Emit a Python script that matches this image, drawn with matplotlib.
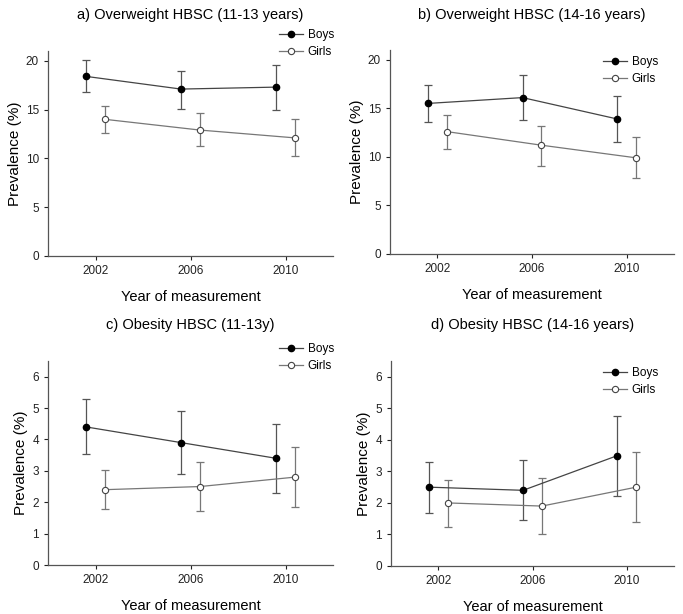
import matplotlib.pyplot as plt

plt.rcParams['font.family'] = ['Liberation Sans', 'DejaVu Sans']

years = [2002, 2006, 2010]
offset = 0.4

titles = ["a) Overweight HBSC (11-13 years)", "b) Overweight HBSC (14-16 years)",
          "c) Obesity HBSC (11-13y)", "d) Obesity HBSC (14-16 years)"]

# boys / girls prevalence with lower and upper CI
boys_a = [18.4, 17.1, 17.3]
boys_a_lo = [16.8, 15.1, 15.0]
boys_a_hi = [20.1, 19.0, 19.6]
girls_a = [14.0, 12.9, 12.1]
girls_a_lo = [12.6, 11.3, 10.2]
girls_a_hi = [15.4, 14.6, 14.0]

boys_b = [15.5, 16.1, 13.9]
boys_b_lo = [13.6, 13.8, 11.5]
boys_b_hi = [17.4, 18.4, 16.3]
girls_b = [12.6, 11.2, 9.9]
girls_b_lo = [10.8, 9.1, 7.8]
girls_b_hi = [14.3, 13.2, 12.0]

boys_c = [4.4, 3.9, 3.4]
boys_c_lo = [3.53, 2.9, 2.3]
boys_c_hi = [5.28, 4.9, 4.48]
girls_c = [2.4, 2.5, 2.8]
girls_c_lo = [1.77, 1.73, 1.85]
girls_c_hi = [3.02, 3.27, 3.75]

boys_d = [2.5, 2.4, 3.5]
boys_d_lo = [1.68, 1.45, 2.23]
boys_d_hi = [3.31, 3.35, 4.77]
girls_d = [2.0, 1.9, 2.5]
girls_d_lo = [1.25, 1.02, 1.4]
girls_d_hi = [2.73, 2.78, 3.6]

panels = [
    (boys_a, boys_a_lo, boys_a_hi, girls_a, girls_a_lo, girls_a_hi),
    (boys_b, boys_b_lo, boys_b_hi, girls_b, girls_b_lo, girls_b_hi),
    (boys_c, boys_c_lo, boys_c_hi, girls_c, girls_c_lo, girls_c_hi),
    (boys_d, boys_d_lo, boys_d_hi, girls_d, girls_d_lo, girls_d_hi),
]

W, H = 683, 614
fig = plt.figure(figsize=(W / 100, H / 100), dpi=100)

# axes boxes in pixels: left, top, right, bottom
boxes = [(48, 51, 333, 256), (390, 50, 674, 254), (48, 361, 333, 565), (391, 361, 674, 566)]
ylims = [21, 21, 6.5, 6.5]
yticks = [[0, 5, 10, 15, 20], [0, 5, 10, 15, 20], [0, 1, 2, 3, 4, 5, 6], [0, 1, 2, 3, 4, 5, 6]]
# legend anchor (pixels) upper right
leg_pos = [(334, 29), (658, 56), (334, 343), (658, 367)]
title_y = [15, 15, 325, 325]

for i, (b, blo, bhi, g, glo, ghi) in enumerate(panels):
    l, t, r, btm = boxes[i]
    ax = fig.add_axes([l / W, 1 - btm / H, (r - l) / W, (btm - t) / H])
    bx = [y - offset for y in years]
    gx = [y + offset for y in years]
    berr = [[v - lo for v, lo in zip(b, blo)], [hi - v for v, hi in zip(b, bhi)]]
    gerr = [[v - lo for v, lo in zip(g, glo)], [hi - v for v, hi in zip(g, ghi)]]
    ax.errorbar(bx, b, yerr=berr, fmt='none', ecolor='#555555', elinewidth=0.9, capsize=3, capthick=0.9)
    ax.errorbar(gx, g, yerr=gerr, fmt='none', ecolor='#777777', elinewidth=0.9, capsize=3, capthick=0.9)
    ax.plot(bx, b, color='#444444', lw=0.9, marker='o', ms=4.5, mfc='black', mec='black', label='Boys')
    ax.plot(gx, g, color='#777777', lw=0.9, marker='o', ms=4.5, mfc='white', mec='#444444', mew=0.8, label='Girls')
    ax.set_xlim(2000, 2012)
    ax.set_ylim(0, ylims[i])
    ax.set_xticks(years)
    ax.set_yticks(yticks[i])
    ax.tick_params(labelsize=8.5, length=3, width=0.8, colors='#222222')
    for s in ['top', 'right']:
        ax.spines[s].set_visible(False)
    for s in ['left', 'bottom']:
        ax.spines[s].set_color('#555555')
        ax.spines[s].set_linewidth(0.9)
    ax.set_ylabel('Prevalence (%)', fontsize=11, labelpad=3)
    ax.set_xlabel('Year of measurement', fontsize=10.5, labelpad=9)
    fig.text((l + r) / 2 / W, 1 - title_y[i] / H, titles[i], ha='center', va='center', fontsize=10.5)
    lx, ly = leg_pos[i]
    ax.legend(loc='upper right', bbox_to_anchor=(lx / W, 1 - ly / H), bbox_transform=fig.transFigure,
              frameon=False, fontsize=8.5, handlelength=2.0, handletextpad=0.4, labelspacing=0.45,
              borderpad=0, borderaxespad=0)

fig.savefig('out.png', dpi=100)
